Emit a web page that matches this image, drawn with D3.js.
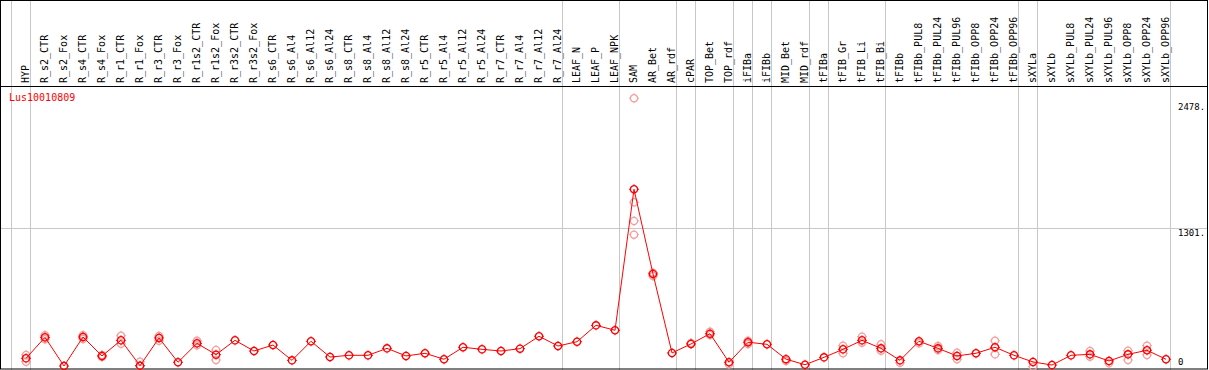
<!DOCTYPE html>
<html>
<head>
<meta charset="utf-8">
<script src="https://cdn.jsdelivr.net/npm/d3@7"></script>
<style>
  body { margin: 0; background: #fff; }
  svg { display: block; }
  text { font-family: "DejaVu Sans Mono", monospace; }
</style>
</head>
<body>
<div id="svg_container"></div>
<script>
const geneName = "Lus10010809";

const samples = ["HYP", "R_s2_CTR", "R_s2_Fox", "R_s4_CTR", "R_s4_Fox", "R_r1_CTR", "R_r1_Fox",
    "R_r3_CTR", "R_r3_Fox", "R_r1s2_CTR", "R_r1s2_Fox", "R_r3s2_CTR", "R_r3s2_Fox", "R_s6_CTR",
    "R_s6_Al4", "R_s6_Al12", "R_s6_Al24", "R_s8_CTR", "R_s8_Al4", "R_s8_Al12", "R_s8_Al24",
    "R_r5_CTR", "R_r5_Al4", "R_r5_Al12", "R_r5_Al24", "R_r7_CTR", "R_r7_Al4", "R_r7_Al12",
    "R_r7_Al24", "LEAF_N", "LEAF_P", "LEAF_NPK", "SAM", "AR_Bet", "AR_rdf", "cPAR", "TOP_Bet",
    "TOP_rdf", "iFIBa", "iFIBb", "MID_Bet", "MID_rdf", "tFIBa", "tFIB_Gr", "tFIB_Li", "tFIB_Bi",
    "tFIBb", "tFIBb_PUL8", "tFIBb_PUL24", "tFIBb_PUL96", "tFIBb_OPP8", "tFIBb_OPP24",
    "tFIBb_OPP96", "sXYLa", "sXYLb", "sXYLb_PUL8", "sXYLb_PUL24", "sXYLb_PUL96", "sXYLb_OPP8",
    "sXYLb_OPP24", "sXYLb_OPP96"];

// mean expression per sample
const expression = [84, 280, 12, 283, 106, 252, 15, 274, 47, 224, 118, 252, 152, 208,
    65, 243, 96, 112, 112, 177, 106, 131, 75, 187, 168, 152, 174, 290, 199, 239, 392, 346,
    1663, 872, 134, 218, 314, 47, 234, 215, 76, 24, 93, 168, 252, 177, 65, 243, 177, 106,
    131, 187, 112, 50, 21, 112, 121, 59, 121, 159, 75];

// individual replicates (sample, value)
const replicates = [
    ["HYP", 115], ["HYP", 52], ["R_s2_CTR", 300], ["R_s2_CTR", 262], ["R_s4_CTR", 300],
    ["R_s4_CTR", 265], ["R_s4_Fox", 115], ["R_s4_Fox", 96], ["R_r1_CTR", 295], ["R_r1_CTR", 220],
    ["R_r1_Fox", 52], ["R_r1_Fox", 12], ["R_r3_CTR", 292], ["R_r3_CTR", 248],
    ["R_r1s2_CTR", 248], ["R_r1s2_CTR", 205], ["R_r1s2_Fox", 162], ["R_r1s2_Fox", 68],
    ["SAM", 2513], ["SAM", 1541], ["SAM", 1367], ["SAM", 1239], ["AR_Bet", 884], ["AR_Bet", 853],
    ["cPAR", 227], ["TOP_Bet", 333], ["TOP_Bet", 302], ["TOP_rdf", 28], ["iFIBa", 248],
    ["iFIBa", 218], ["MID_Bet", 59], ["tFIB_Gr", 202], ["tFIB_Gr", 131], ["tFIB_Li", 286],
    ["tFIB_Li", 230], ["tFIB_Bi", 215], ["tFIB_Bi", 155], ["tFIBb", 43], ["tFIBb_PUL8", 224],
    ["tFIBb_PUL24", 199], ["tFIBb_PUL24", 162], ["tFIBb_PUL96", 136], ["tFIBb_PUL96", 75],
    ["tFIBb_OPP24", 248], ["tFIBb_OPP24", 121], ["sXYLa", 6], ["sXYLb_PUL24", 152],
    ["sXYLb_PUL24", 99], ["sXYLb_PUL96", 37], ["sXYLb_OPP8", 155], ["sXYLb_OPP8", 68],
    ["sXYLb_OPP24", 202], ["sXYLb_OPP24", 115]];

// first sample of every tissue group (a grey separator sits before each)
const groupStarts = ["HYP", "R_s2_CTR", "LEAF_N", "SAM", "cPAR", "TOP_Bet", "iFIBa", "iFIBb",
    "MID_Bet", "tFIBa", "tFIB_Gr", "tFIBb", "sXYLa", "sXYLb"];

const yTicks = [0, 1301, 2478];

const W = 1209, H = 370, headerH = 86;

const svg = d3.select("#svg_container")
    .append("svg")
    .attr("width", W)
    .attr("height", H);

const x = d3.scalePoint()
    .domain(samples)
    .range([26, 1166]);
const step = x.step();

const y = d3.scaleLinear()
    .domain([0, 2478])
    .range([367.3, 102]);

// grey separators
const sepX = groupStarts.map(s => x(s) - 15).concat([x(samples[samples.length - 1]) + step - 15]);
svg.append("g")
    .selectAll("line")
    .data(sepX)
    .enter()
    .append("line")
    .attr("x1", d => Math.round(d) + 0.5)
    .attr("x2", d => Math.round(d) + 0.5)
    .attr("y1", 0)
    .attr("y2", H)
    .attr("stroke", "#c8c8c8");

// horizontal grid line at middle tick
svg.append("line")
    .attr("x1", 0)
    .attr("x2", W - 2)
    .attr("y1", Math.round(y(1301)) + 0.5)
    .attr("y2", Math.round(y(1301)) + 0.5)
    .attr("stroke", "#c8c8c8");

// frame and header separator
svg.append("rect")
    .attr("x", 0.5)
    .attr("y", 0.5)
    .attr("width", W - 2)
    .attr("height", H - 1.5)
    .attr("fill", "none")
    .attr("stroke", "#000");
svg.append("line")
    .attr("x1", 0)
    .attr("x2", W - 1)
    .attr("y1", headerH + 0.5)
    .attr("y2", headerH + 0.5)
    .attr("stroke", "#000");

// sample labels
svg.append("g")
    .selectAll("text")
    .data(samples)
    .enter()
    .append("text")
    .attr("transform", d => `translate(${x(d) + 3}, ${headerH - 3}) rotate(-90)`)
    .attr("font-size", 10)
    .attr("fill", "#000")
    .text(d => d);

// y tick labels on the right
svg.append("g")
    .selectAll("text")
    .data(yTicks)
    .enter()
    .append("text")
    .attr("x", 1178)
    .attr("y", d => d === 0 ? y(d) - 2 : y(d) + 8)
    .attr("font-size", 9)
    .attr("fill", "#000")
    .text(d => d === 0 ? "0" : d + ".");

// gene name
svg.append("text")
    .attr("x", 9)
    .attr("y", 101)
    .attr("font-size", 10)
    .attr("fill", "#ff0000")
    .text(geneName);

function marker(g, color) {
    g.append("circle")
        .attr("r", 3.6)
        .attr("fill", "none")
        .attr("stroke", color)
        .attr("stroke-width", 1.3);
    g.append("path")
        .attr("d", "M0,-5V-3.6M0,3.6V5M-5,0H-3.6M3.6,0H5")
        .attr("stroke", color)
        .attr("stroke-width", 1);
}

// replicate points
svg.append("g")
    .selectAll("g")
    .data(replicates)
    .enter()
    .append("g")
    .attr("transform", d => `translate(${x(d[0])}, ${y(d[1])})`)
    .each(function () { marker(d3.select(this), "#f3a0a0"); });

// mean line
const pts = samples.map((s, i) => [x(s), y(expression[i])]);
svg.append("path")
    .attr("d", d3.line()(pts))
    .attr("fill", "none")
    .attr("stroke", "#ff0000")
    .attr("stroke-width", 1);

svg.append("g")
    .selectAll("g")
    .data(pts)
    .enter()
    .append("g")
    .attr("transform", d => `translate(${d[0]}, ${d[1]})`)
    .each(function () { marker(d3.select(this), "#ff0000"); });
</script>
</body>
</html>
